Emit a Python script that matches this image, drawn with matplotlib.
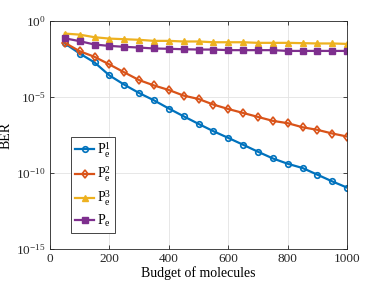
import numpy as np
import matplotlib
matplotlib.use("Agg")
import matplotlib.pyplot as plt

plt.rcParams['font.family'] = 'Liberation Serif'
plt.rcParams['mathtext.fontset'] = 'custom'
plt.rcParams['mathtext.rm'] = 'Liberation Serif'
plt.rcParams['mathtext.it'] = 'Liberation Serif:italic'

budget = [50, 100, 150, 200, 250, 300, 350, 400, 450, 500,
          550, 600, 650, 700, 750, 800, 850, 900, 950, 1000]

# log10 of BER
p1_exp = [-1.48, -2.14, -2.73, -3.58, -4.19, -4.74, -5.22, -5.76, -6.27, -6.77,
          -7.25, -7.69, -8.14, -8.60, -9.04, -9.39, -9.67, -10.11, -10.55, -10.96]
p2_exp = [-1.44, -1.99, -2.36, -2.86, -3.38, -3.89, -4.24, -4.54, -4.91, -5.13,
          -5.50, -5.79, -6.05, -6.31, -6.57, -6.72, -6.99, -7.16, -7.40, -7.60]
p3_exp = [-0.83, -0.90, -1.07, -1.16, -1.20, -1.24, -1.31, -1.31, -1.35, -1.35,
          -1.40, -1.40, -1.40, -1.44, -1.44, -1.44, -1.46, -1.48, -1.48, -1.51]
pe_exp = [-1.14, -1.33, -1.55, -1.64, -1.70, -1.75, -1.81, -1.83, -1.86, -1.88,
          -1.88, -1.92, -1.92, -1.92, -1.92, -1.97, -1.97, -1.97, -1.97, -1.97]

labels = [r'$\mathrm{P}_\mathrm{e}^1$', r'$\mathrm{P}_\mathrm{e}^2$',
          r'$\mathrm{P}_\mathrm{e}^3$', r'$\mathrm{P}_\mathrm{e}$']

fig = plt.figure(figsize=(3.83, 2.87), dpi=100)
ax = fig.add_axes([0.1305, 0.132, 0.776, 0.795])

ax.semilogy(budget, 10 ** np.array(p1_exp), '-o', color='#0072BD', lw=1.6,
            ms=4, mfc='none', mew=1.2, label=labels[0])
ax.semilogy(budget, 10 ** np.array(p2_exp), '-d', color='#D95319', lw=1.6,
            ms=4.5, mfc='none', mew=1.2, label=labels[1])
ax.semilogy(budget, 10 ** np.array(p3_exp), '-^', color='#EDB120', lw=1.6,
            ms=5, label=labels[2])
ax.semilogy(budget, 10 ** np.array(pe_exp), '-s', color='#7E2F8E', lw=1.6,
            ms=4, label=labels[3])

ax.set_xlim(0, 1000)
ax.set_ylim(1e-15, 1)
ax.set_xticks([0, 200, 400, 600, 800, 1000])
ax.set_yticks([1e-15, 1e-10, 1e-5, 1])
ax.minorticks_off()
ax.grid(True, color='#e3e3e3', lw=0.6)
ax.set_axisbelow(True)
ax.tick_params(direction='in', top=True, right=True, labelsize=9.5,
               length=3, width=0.6, colors='#262626', pad=3)
for s in ax.spines.values():
    s.set_color('#262626')
    s.set_linewidth(0.6)

ax.set_xlabel('Budget of molecules', fontsize=10, labelpad=1)
ax.set_ylabel('BER', fontsize=10)
ax.yaxis.set_label_coords(-0.125, 0.5)

leg = ax.legend(loc='lower left', bbox_to_anchor=(0.072, 0.072), fontsize=10,
                handlelength=1.4, handletextpad=0.2, borderpad=0.25,
                labelspacing=0.35, fancybox=False, framealpha=1,
                borderaxespad=0, edgecolor='#262626')
leg.get_frame().set_linewidth(0.6)

fig.savefig('out.png', dpi=100)
